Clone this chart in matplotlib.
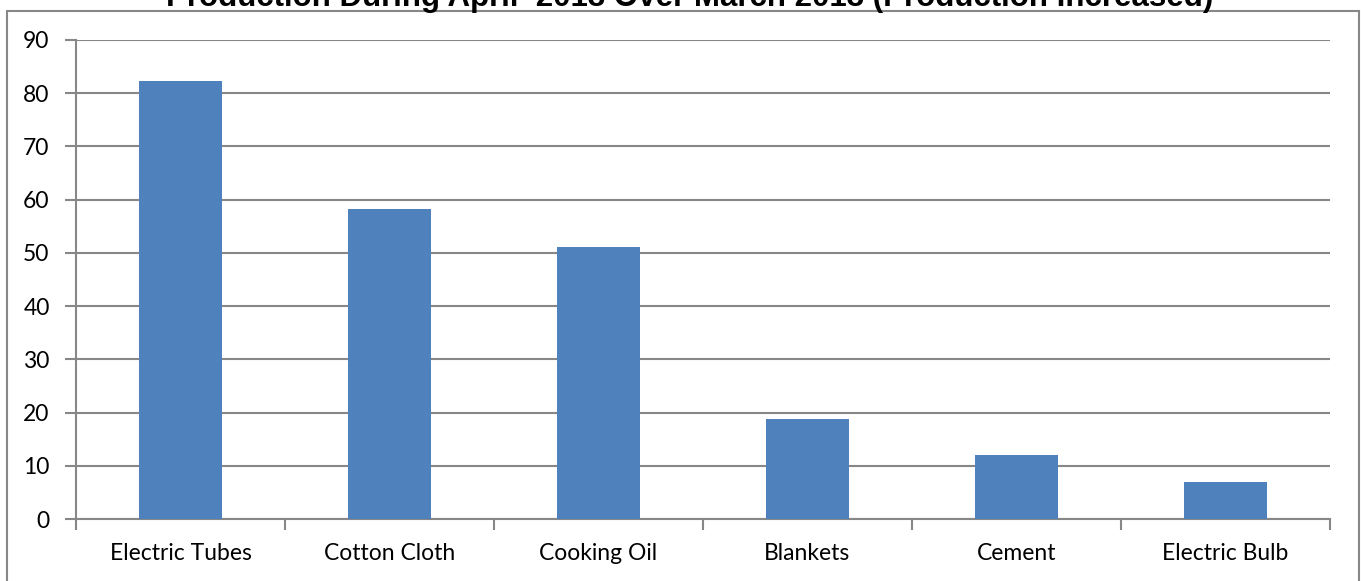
import matplotlib.pyplot as plt
from matplotlib.patches import Rectangle

# Production increase per item
items = ['Electric Tubes', 'Cotton Cloth', 'Cooking Oil', 'Blankets',
         'Cement', 'Electric Bulb']
increase = [82.3, 58.2, 51.1, 18.8, 12.0, 6.9]
yticks = [0, 10, 20, 30, 40, 50, 60, 70, 80, 90]

plt.rcParams['font.family'] = ['Lato', 'DejaVu Sans']

fig = plt.figure(figsize=(13.61, 5.81), dpi=100)
ax = fig.add_axes([76 / 1361, 1 - 519 / 581, (1330 - 76) / 1361, (519 - 40) / 581])

grey = '#878787'

# Outer chart border
fig.patches.append(Rectangle((7 / 1361, -0.1), (1359 - 7) / 1361, 1 - 11 / 581 + 0.1,
                             transform=fig.transFigure, fill=False,
                             edgecolor=grey, linewidth=1.5, zorder=0))

x = range(len(items))
ax.bar(x, increase, width=0.4, color='#4F81BD', zorder=3)

ax.set_xlim(-0.5, len(items) - 0.5)
ax.set_ylim(0, 90)
ax.set_yticks(yticks)
ax.set_xticks(x)
ax.set_xticklabels(items, fontsize=16.5)
ax.tick_params(axis='x', length=0, pad=17)
ax.tick_params(axis='y', length=8, width=1.5, color=grey, labelsize=16.5, pad=11)

# tick marks between categories
ax.set_xticks([i - 0.5 for i in range(len(items) + 1)], minor=True)
ax.tick_params(axis='x', which='minor', length=8, width=1.5, color=grey)

ax.yaxis.grid(True, color=grey, linewidth=1.5, zorder=0)
ax.set_axisbelow(True)

for s in ['top', 'right']:
    ax.spines[s].set_visible(False)
for s in ['left', 'bottom']:
    ax.spines[s].set_color(grey)
    ax.spines[s].set_linewidth(1.5)

# title sits partly above the top edge, as in the original
fig.text(0.507, 1 - 6 / 581,
         'Production During April  2013 Over March 2013 (Production Increased)',
         ha='center', va='baseline', fontsize=22.5, fontweight='bold',
         family='Liberation Sans')

fig.savefig('out.png', dpi=100)
